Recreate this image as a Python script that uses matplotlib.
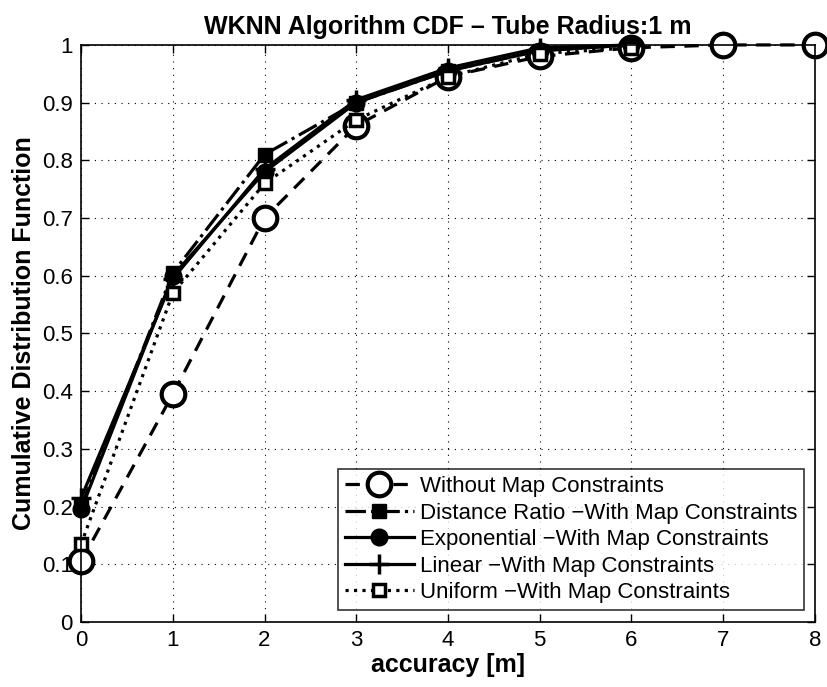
import matplotlib
matplotlib.use("Agg")
import matplotlib.pyplot as plt

plt.rcParams['font.family'] = ['Liberation Sans', 'DejaVu Sans']

x_full = [0, 1, 2, 3, 4, 5, 6, 7, 8]
x_short = [0, 1, 2, 3, 4, 5, 6]

without_map = [0.105, 0.395, 0.70, 0.86, 0.945, 0.98, 0.995, 1.0, 1.0]
distance_ratio = [0.20, 0.605, 0.81, 0.90, 0.955, 0.99, 1.0]
exponential = [0.195, 0.60, 0.78, 0.90, 0.955, 0.99, 1.0]
linear = [0.215, 0.595, 0.785, 0.905, 0.96, 0.995, 1.0]
uniform = [0.135, 0.57, 0.76, 0.87, 0.945, 0.985, 0.995]

labels = ["Without Map Constraints",
          "Distance Ratio \u2212With Map Constraints",
          "Exponential \u2212With Map Constraints",
          "Linear \u2212With Map Constraints",
          "Uniform \u2212With Map Constraints"]

fig = plt.figure(figsize=(8.28, 6.87), dpi=100)
ax = fig.add_axes([0.098, 0.0946, 0.886, 0.84])

ax.plot(x_full, without_map, 'k--', lw=2.3, marker='o', ms=17,
        mfc='white', mew=3, dashes=(4.5, 3), label=labels[0], clip_on=False)
ax.plot(x_short, distance_ratio, 'k-.', lw=2.3, marker='s', ms=10,
        label=labels[1], clip_on=False)
ax.plot(x_short, exponential, 'k-', lw=2.3, marker='o', ms=12,
        label=labels[2], clip_on=False)
ax.plot(x_short, linear, 'k-', lw=2.3, marker='+', ms=14, mew=2.5,
        label=labels[3], clip_on=False)
ax.plot(x_short, uniform, 'k:', lw=2.3, marker='s', ms=9, mfc='white',
        mew=2.5, label=labels[4], clip_on=False)

ax.set_xlim(0, 8)
ax.set_ylim(0, 1)
ax.set_xticks(range(0, 9))
ax.set_yticks([i / 10 for i in range(11)])
ax.set_yticklabels(['0', '0.1', '0.2', '0.3', '0.4', '0.5', '0.6', '0.7',
                    '0.8', '0.9', '1'])
ax.tick_params(direction='in', top=True, right=True, labelsize=16,
               length=6, width=1, pad=6)
ax.grid(True, color='k', linestyle=(0, (1, 5)), lw=0.8)
for s in ax.spines.values():
    s.set_linewidth(1.2)

ax.set_xlabel("accuracy [m]", fontsize=18, fontweight='bold', labelpad=1)
ax.set_ylabel("Cumulative Distribution Function", fontsize=18,
              fontweight='bold', labelpad=4)
ax.set_title("WKNN Algorithm CDF \u2013 Tube Radius:1 m", fontsize=18,
             fontweight='bold', pad=8)

leg = ax.legend(loc='lower right', fontsize=16, frameon=True, fancybox=False,
                edgecolor='k', handlelength=3.1, borderpad=0.3,
                labelspacing=0.25, handletextpad=0.3, borderaxespad=0,
                bbox_to_anchor=(0.986, 0.021))
leg.get_frame().set_linewidth(1.2)

fig.savefig("out.png", dpi=100)
